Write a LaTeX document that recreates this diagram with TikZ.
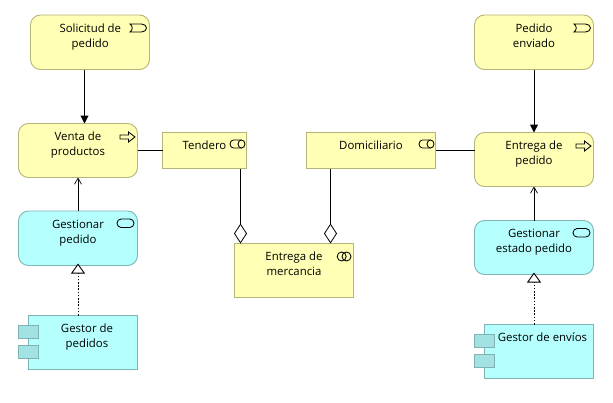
\documentclass[tikz,border=0pt]{standalone}
\usepackage{fontspec}
\setmainfont{Open Sans}
\usetikzlibrary{arrows.meta,calc}
\definecolor{bizfill}{HTML}{FFFFB5}
\definecolor{bizline}{HTML}{B5B577}
\definecolor{appfill}{HTML}{B5FFFF}
\definecolor{appline}{HTML}{7FB3B3}
\definecolor{appsub}{HTML}{A3E2E2}
\tikzset{
  bx/.style={draw=bizline,fill=bizfill,line width=.9pt,inner sep=0pt,outer sep=0pt,anchor=north west},
  rbx/.style={bx,rounded corners=10pt},
  ab/.style={draw=appline,fill=appfill,line width=.9pt,inner sep=0pt,outer sep=0pt,anchor=north west},
  rab/.style={ab,rounded corners=10pt},
  subbox/.style={draw=appline,fill=appsub,line width=.9pt,inner sep=0pt,outer sep=0pt,anchor=north west,minimum width=20.5pt,minimum height=13.5pt},
  txt/.style={anchor=north,inner sep=0pt,align=center,font=\fontsize{11.4pt}{15pt}\selectfont,text=black},
  conn/.style={draw=black,line width=1pt},
  trig/.style={conn,-{Triangle[length=8pt,width=8pt]}},
  acc/.style={conn,-{Straight Barb[length=6pt,width=7pt,line width=.7pt]}},
  real/.style={draw=black,line width=.7pt,dash pattern=on 1.6pt off 1.6pt,shorten >=-2pt,-{Triangle[open,fill=white,length=10pt,width=14pt,line width=.9pt,sep=0pt]}},
  agg/.style={conn,{Diamond[open,fill=white,length=20pt,width=13pt,line width=.8pt]}-},
  ic/.style={draw=black,line width=.85pt},
  pics/evicon/.style={code={
    \draw[ic] (-19.5,9) -- (-8,9) arc[start angle=-90,end angle=90,x radius=5,y radius=4] -- (-19.5,17) .. controls (-16.5,15) and (-16.5,11) .. cycle;}},
  pics/procicon/.style={code={
    \draw[ic,line join=miter] (-17.5,11.5) -- (-9,11.5) -- (-9,8.5) -- (-2.5,13.5) -- (-9,18.5) -- (-9,15.5) -- (-17.5,15.5) -- cycle;}},
  pics/roleicon/.style={code={
    \draw[ic] (-5,7.5) -- (-13,7.5) arc[start angle=-90,end angle=-270,x radius=3.5,y radius=4] -- (-5,15.5);
    \draw[ic] (-5,11.5) ellipse[x radius=3.5,y radius=4];}},
  pics/srvicon/.style={code={
    \draw[ic,rounded corners=4.2pt] (-20.5,8) rectangle (-3.5,16.5);}},
  pics/colicon/.style={code={
    \draw[ic] (-11.8,13) circle[radius=4.5];
    \draw[ic] (-7,13) circle[radius=4.5];}},
}
\begin{document}
\begin{tikzpicture}[x=1pt,y=-1pt]
\useasboundingbox (0,0) rectangle (613,402);
\node[rbx,minimum width=119pt,minimum height=54.5pt] (sol) at (30.5,15) {};
\node[rbx,minimum width=119pt,minimum height=54pt] (ven) at (18.5,123.5) {};
\node[bx,minimum width=84pt,minimum height=36pt] (ten) at (162.5,132.5) {};
\node[rab,minimum width=119pt,minimum height=54.5pt] (gpe) at (18.5,211) {};
\node[ab,minimum width=109.5pt,minimum height=54pt] (gdp) at (28,315.5) {};
\node[subbox] (gdpa) at (18,325) {};
\node[subbox] (gdpb) at (18,345) {};
\node[bx,minimum width=119.5pt,minimum height=54pt] (mer) at (234,243.5) {};
\node[bx,minimum width=129pt,minimum height=36pt] (dom) at (306.5,132.5) {};
\node[rbx,minimum width=119pt,minimum height=54.5pt] (env) at (474.5,15) {};
\node[rbx,minimum width=119pt,minimum height=54pt] (ent) at (474.5,132.5) {};
\node[rab,minimum width=119pt,minimum height=54pt] (ges) at (474.5,220.5) {};
\node[ab,minimum width=109.5pt,minimum height=54pt] (gde) at (484,324.5) {};
\node[subbox] (gdea) at (474,334) {};
\node[subbox] (gdeb) at (474,354) {};
\node[txt] (tsol) at (90.3,24) {Solicitud de\\pedido};
\node[txt] (tven) at (78,132) {Venta de\\productos};
\node[txt] (tten) at (204.5,141) {Tendero};
\node[txt] (tgpe) at (78,220) {Gestionar\\pedido};
\node[txt] (tgdp) at (87,324) {Gestor de\\pedidos};
\node[txt] (tmer) at (294,252) {Entrega de\\mercancia};
\node[txt] (tdom) at (371,141) {Domiciliario};
\node[txt] (tenv) at (534,24) {Pedido\\enviado};
\node[txt] (tent) at (534,141) {Entrega de\\pedido};
\node[txt] (tges) at (534,229) {Gestionar\\estado pedido};
\node[txt] (tgde) at (542.5,333) {Gestor de envíos};
\pic at (sol.north east) {evicon};
\pic at (env.north east) {evicon};
\pic at (ven.north east) {procicon};
\pic at (ent.north east) {procicon};
\pic at (ten.north east) {roleicon};
\pic at (dom.north east) {roleicon};
\pic at (gpe.north east) {srvicon};
\pic at (ges.north east) {srvicon};
\pic at (mer.north east) {colicon};
\coordinate (xa) at (84.5,0);
\coordinate (xb) at (78,0);
\coordinate (xc) at (240.5,0);
\coordinate (xd) at (330.5,0);
\coordinate (xe) at (534,0);
\coordinate (yb) at (0,150.5);
\draw[trig] (sol.south -| xa) -- (ven.north -| xa);
\draw[acc] (gpe.north -| xb) -- (ven.south -| xb);
\draw[real] (gdp.north -| xb) -- (gpe.south -| xb);
\draw[conn] (ven.east |- yb) -- (ten.west |- yb);
\draw[agg] (mer.north -| xc) -- (ten.south -| xc);
\draw[agg] (mer.north -| xd) -- (dom.south -| xd);
\draw[conn] (dom.east |- yb) -- (ent.west |- yb);
\draw[trig] (env.south -| xe) -- (ent.north -| xe);
\draw[acc] (ges.north -| xe) -- (ent.south -| xe);
\draw[real] (gde.north -| xe) -- (ges.south -| xe);
\end{tikzpicture}
\end{document}
